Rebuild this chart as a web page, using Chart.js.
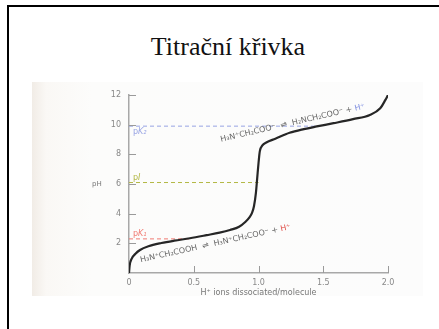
<!DOCTYPE html>
<html>
<head>
<meta charset="utf-8">
<script src="https://cdn.jsdelivr.net/npm/chart.js@4.4.1/dist/chart.umd.min.js"></script>
<style>
  html, body { margin: 0; padding: 0; background: #fff; }
  #slide { position: relative; width: 439px; height: 329px; overflow: hidden; background: #fff; }
  #frameTop { position: absolute; left: 7px; top: 5px; width: 432px; height: 2px; background: #000; }
  #frameLeft { position: absolute; left: 7px; top: 5px; width: 2px; height: 324px; background: #000; }
  #title { position: absolute; left: 0; width: 456px; top: 32px; text-align: center;
    font-family: "Liberation Serif", "Times New Roman", serif; font-size: 26px; color: #111; }
  #scan { position: absolute; left: 32px; top: 82px; width: 391px; height: 214px;
    background: linear-gradient(to right, #f1ece6 0px, #faf8f5 14px, #fcfcfb 60px, #fcfcfc 100%); }
  #chartBox { position: absolute; left: 0; top: 0; width: 439px; height: 329px; }
</style>
</head>
<body>
<div id="slide">
  <div id="frameTop"></div>
  <div id="frameLeft"></div>
  <div id="title">Titrační křivka</div>
  <div id="scan"></div>
  <div id="chartBox"><canvas id="chart" width="439" height="329"></canvas></div>
</div>
<script>
// titration curve of glycine
const curveX = [0, 0.005, 0.02, 0.05, 0.085, 0.15, 0.25, 0.35, 0.47, 0.6, 0.7, 0.78, 0.85, 0.9, 0.93, 0.95, 0.965, 0.98, 0.99, 1.0, 1.01, 1.03, 1.06, 1.13, 1.24, 1.35, 1.45, 1.58, 1.73, 1.86, 1.94, 1.98, 2.0];
const curvePH = [0, 0.5, 0.95, 1.3, 1.55, 1.8, 2.02, 2.18, 2.34, 2.55, 2.72, 2.9, 3.12, 3.46, 3.75, 4.05, 4.5, 5.4, 6.4, 7.4, 8.2, 8.6, 8.8, 9.05, 9.45, 9.7, 9.88, 10.1, 10.37, 10.65, 11.1, 11.67, 12.0];

// dashed marker lines pK1, pI, pK2
const refLabels = ['K₁', 'I', 'K₂'];
const refPH = [2.3, 6.1, 9.9];
const refEndX = [0.47, 1.0, 1.47];
const refColors = ['#f07a72', '#b3b845', '#98a4e4'];

const xTicks = [0, 0.5, 1.0, 1.5, 2.0];
const xTickLabels = ['0', '0.5', '1.0', '1.5', '2.0'];
const yTicks = [2, 4, 6, 8, 10, 12];

const xTitle = 'H⁺ ions dissociated/molecule';
const yTitle = 'pH';

// reaction labels along the curve
const lowerEq = [['H₃N⁺CH₂COOH  ⇌  H₃N⁺CH₂COO⁻ + ', '#666'], ['H⁺', '#e0504a']];
const upperEq = [['H₃N⁺CH₂COO⁻  ⇌  H₂NCH₂COO⁻ + ', '#666'], ['H⁺', '#7f8fe0']];
const lowerAt = [0.09, 0.72];
const upperAt = [0.71, 8.85];

const datasets = [{
  data: curveX.map((x, i) => ({ x, y: curvePH[i] })),
  showLine: true,
  borderColor: '#262626',
  borderWidth: 2.2,
  pointRadius: 0,
  cubicInterpolationMode: 'monotone',
  order: 0
}];
refPH.forEach((v, i) => {
  datasets.push({
    data: [{ x: 0, y: v }, { x: refEndX[i], y: v }],
    showLine: true,
    borderColor: refColors[i],
    borderWidth: 1,
    borderDash: [4, 3],
    pointRadius: 0,
    order: 1
  });
});

function drawParts(ctx, parts) {
  let x = 0;
  parts.forEach(p => {
    ctx.fillStyle = p[1];
    ctx.fillText(p[0], x, 0);
    x += ctx.measureText(p[0]).width;
  });
}

const extras = {
  id: 'extras',
  afterDraw(chart) {
    const ctx = chart.ctx;
    const xs = chart.scales.x, ys = chart.scales.y;
    ctx.save();

    // inward tick marks
    ctx.strokeStyle = '#9a9a9a';
    ctx.lineWidth = 1;
    yTicks.forEach(v => {
      const py = Math.round(ys.getPixelForValue(v)) + 0.5;
      ctx.beginPath();
      ctx.moveTo(xs.left, py);
      ctx.lineTo(xs.left + 7, py);
      ctx.stroke();
    });
    xTicks.slice(1).forEach(v => {
      const px = Math.round(xs.getPixelForValue(v)) + 0.5;
      ctx.beginPath();
      ctx.moveTo(px, ys.bottom);
      ctx.lineTo(px, ys.bottom - 7);
      ctx.stroke();
    });

    // axis titles
    ctx.fillStyle = '#777';
    ctx.font = '7px "DejaVu Sans"';
    ctx.textBaseline = 'middle';
    ctx.textAlign = 'left';
    ctx.fillText(yTitle, xs.left - 37, ys.getPixelForValue(6));
    ctx.textAlign = 'center';
    ctx.font = '8px "DejaVu Sans"';
    ctx.fillText(xTitle, xs.getPixelForValue(1.0), ys.bottom + 20);

    // pK / pI labels
    ctx.textAlign = 'left';
    ctx.textBaseline = 'alphabetic';
    refPH.forEach((v, i) => {
      const py = ys.getPixelForValue(v) + (i === 2 ? 8 : -3);
      const px = xs.left + 4;
      ctx.fillStyle = refColors[i];
      ctx.font = '8px "DejaVu Sans"';
      ctx.fillText('p', px, py);
      const w = ctx.measureText('p').width;
      ctx.font = 'italic 8px "DejaVu Sans"';
      ctx.fillText(refLabels[i], px + w, py);
    });

    // reaction equations along the curve
    ctx.font = '8px "DejaVu Sans"';
    [[lowerEq, lowerAt, -12.5], [upperEq, upperAt, -13]].forEach(e => {
      ctx.save();
      ctx.translate(xs.getPixelForValue(e[1][0]), ys.getPixelForValue(e[1][1]));
      ctx.rotate(e[2] * Math.PI / 180);
      drawParts(ctx, e[0]);
      ctx.restore();
    });
    ctx.restore();
  }
};

new Chart(document.getElementById('chart'), {
  type: 'scatter',
  data: { datasets },
  options: {
    responsive: false,
    animation: false,
    events: [],
    layout: { padding: { left: 0, right: 51, top: 95, bottom: 0 } },
    plugins: { legend: { display: false }, tooltip: { enabled: false } },
    scales: {
      x: {
        type: 'linear',
        min: 0,
        max: 2,
        afterBuildTicks: s => { s.ticks = xTicks.map(v => ({ value: v })); },
        afterFit: s => { s.height = 56; },
        ticks: {
          color: '#888',
          font: { family: 'DejaVu Sans', size: 8 },
          padding: 5,
          maxRotation: 0,
          callback: (v) => xTickLabels[xTicks.indexOf(v)]
        },
        grid: { display: false, drawTicks: false },
        border: { display: true, color: '#a8a8a8', width: 1.5 }
      },
      y: {
        type: 'linear',
        min: 0,
        max: 12,
        afterBuildTicks: s => { s.ticks = yTicks.map(v => ({ value: v })); },
        afterFit: s => { s.width = 129; },
        ticks: {
          color: '#888',
          font: { family: 'DejaVu Sans', size: 8 },
          padding: 8
        },
        grid: { display: false, drawTicks: false },
        border: { display: true, color: '#a8a8a8', width: 1.5 }
      }
    }
  },
  plugins: [extras]
});
</script>
</body>
</html>
